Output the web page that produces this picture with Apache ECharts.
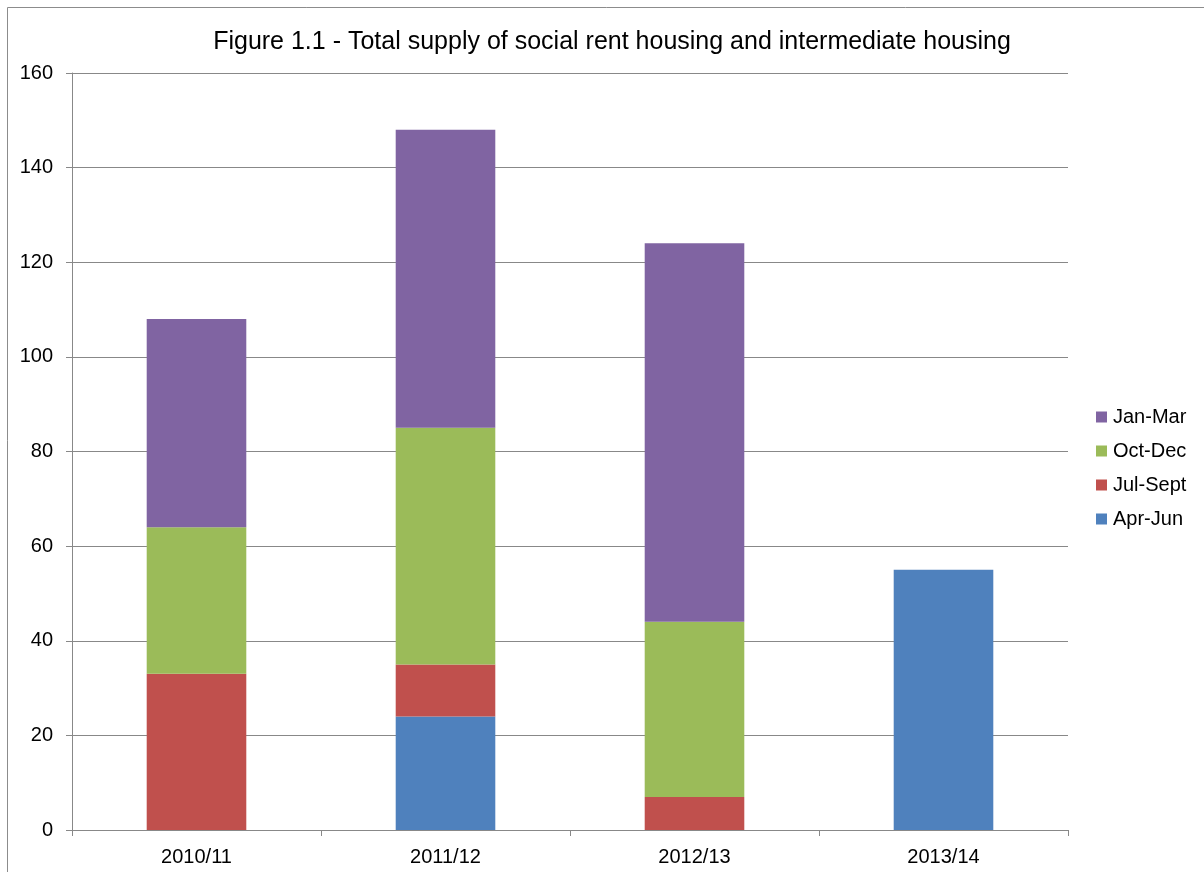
<!DOCTYPE html>
<html>
<head>
<meta charset="utf-8">
<script src="https://cdn.jsdelivr.net/npm/echarts@6/dist/echarts.min.js"></script>
<style>
  html, body { margin: 0; padding: 0; background: #fff; }
  #chart { width: 1204px; height: 872px; }
</style>
</head>
<body>
<div id="chart"></div>
<script>
var categories = ['2010/11', '2011/12', '2012/13', '2013/14'];
var aprJun = [0, 24, 0, 55];
var julSept = [33, 11, 7, 0];
var octDec = [31, 50, 37, 0];
var janMar = [44, 63, 80, 0];

var myChart = echarts.init(document.getElementById('chart'));
var font = 'Liberation Sans, Arial, sans-serif';

function bar(name, data, color) {
  return {
    name: name,
    type: 'bar',
    stack: 'total',
    barWidth: '40%',
    itemStyle: { color: color },
    data: data
  };
}

var option = {
  animation: false,
  textStyle: { fontFamily: font },
  graphic: [{
    type: 'rect',
    shape: { x: 7.5, y: 7.5, width: 1300, height: 1000 },
    style: { fill: 'none', stroke: '#8c8c8c', lineWidth: 1 },
    silent: true
  }],
  title: {
    text: 'Figure 1.1 - Total supply of social rent housing and intermediate housing',
    left: 607,
    textAlign: 'center',
    top: 25,
    textStyle: { fontFamily: font, fontSize: 25, fontWeight: 'normal', color: '#000' }
  },
  legend: {
    orient: 'vertical',
    left: 1096,
    top: 407,
    padding: 0,
    itemWidth: 11,
    itemHeight: 11,
    itemGap: 14,
    icon: 'rect',
    data: ['Jan-Mar', 'Oct-Dec', 'Jul-Sept', 'Apr-Jun'],
    textStyle: { fontFamily: font, fontSize: 20, color: '#000', lineHeight: 20, padding: [0, 0, 0, 1] }
  },
  grid: { left: 72, right: 136, top: 73, bottom: 42 },
  xAxis: {
    type: 'category',
    data: categories,
    axisLine: { lineStyle: { color: '#888', width: 1 } },
    axisTick: { show: true, length: 6, lineStyle: { color: '#888' } },
    axisLabel: { color: '#000', fontSize: 20, fontFamily: font, margin: 17 }
  },
  yAxis: {
    type: 'value',
    min: 0,
    max: 160,
    interval: 20,
    axisLine: { show: true, lineStyle: { color: '#888', width: 1 } },
    axisTick: { show: true, length: 6, lineStyle: { color: '#888' } },
    splitLine: { lineStyle: { color: '#888', width: 1 } },
    axisLabel: { color: '#000', fontSize: 20, fontFamily: font, margin: 19 }
  },
  series: [
    bar('Apr-Jun', aprJun, '#4F81BD'),
    bar('Jul-Sept', julSept, '#C0504D'),
    bar('Oct-Dec', octDec, '#9BBB59'),
    bar('Jan-Mar', janMar, '#8064A2')
  ]
};

myChart.setOption(option);
</script>
</body>
</html>
